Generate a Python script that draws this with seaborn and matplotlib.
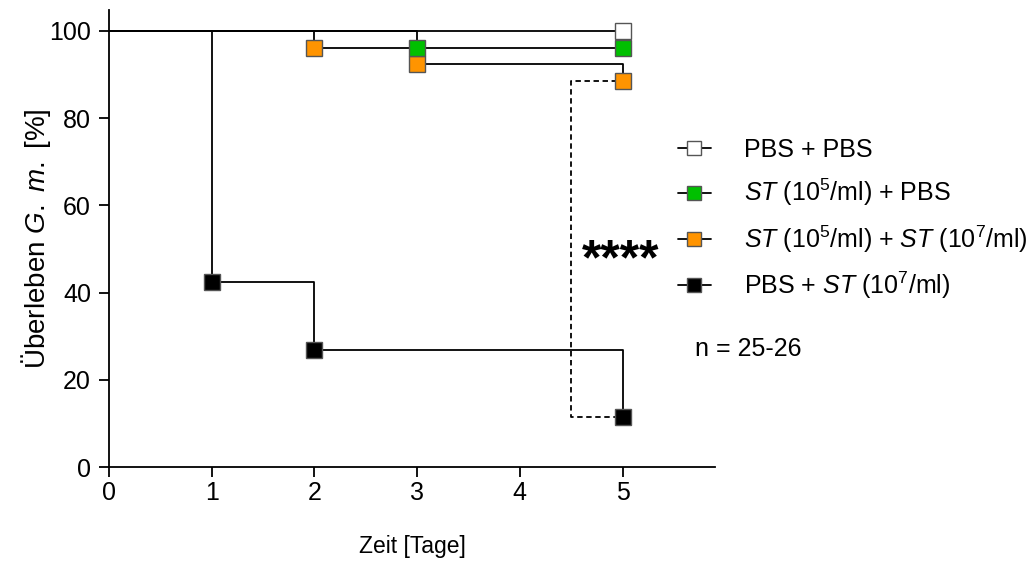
import matplotlib
matplotlib.use("Agg")
import matplotlib.pyplot as plt
from matplotlib.lines import Line2D
import seaborn as sns
import pandas as pd

# Kaplan-Meier survival (%) per group: step points and marked time points
days = [0, 1, 2, 3, 4, 5]
pbs_pbs_t = [0, 5]
pbs_pbs_s = [100.0, 100.0]
st5_pbs_t = [0, 3, 5]
st5_pbs_s = [100.0, 96.0, 96.0]
st5_st7_t = [0, 2, 3, 5]
st5_st7_s = [100.0, 96.15, 92.31, 88.46]
pbs_st7_t = [0, 1, 2, 5]
pbs_st7_s = [100.0, 42.31, 26.92, 11.54]

labels = [
    "PBS + PBS",
    r"$\mathit{ST}$ (10$^{5}$/ml) + PBS",
    r"$\mathit{ST}$ (10$^{5}$/ml) + $\mathit{ST}$ (10$^{7}$/ml)",
    r"PBS + $\mathit{ST}$ (10$^{7}$/ml)",
]
colors = ["#ffffff", "#00c000", "#ff9400", "#000000"]
y_ticks = [0, 20, 40, 60, 80, 100]

sns.set_theme(style="ticks")
plt.rcParams["font.family"] = ["Liberation Sans", "DejaVu Sans"]
plt.rcParams["text.color"] = "black"
plt.rcParams["mathtext.fontset"] = "custom"
plt.rcParams["mathtext.rm"] = "Liberation Sans"
plt.rcParams["mathtext.it"] = "Liberation Sans:italic"
plt.rcParams["mathtext.bf"] = "Liberation Sans:bold"

fig = plt.figure(figsize=(10.35, 5.7), dpi=100)
ax = fig.add_axes([0.1053, 0.1807, 0.5855, 0.8018])

series = [
    (pbs_pbs_t, pbs_pbs_s),
    (st5_pbs_t, st5_pbs_s),
    (st5_st7_t, st5_st7_s),
    (pbs_st7_t, pbs_st7_s),
]
# markers drawn at every point except the start
marker_z = [3.0, 3.4, 3.2, 3.1]
for (t, s), col, mz in zip(series, colors, marker_z):
    df = pd.DataFrame({"t": t, "s": s})
    sns.lineplot(data=df, x="t", y="s", drawstyle="steps-post", color="black",
                 lw=1.3, estimator=None, ax=ax, zorder=2)
    ax.plot(df["t"][1:], df["s"][1:], ls="none", marker="s", ms=11,
            mfc=col, mec="#555555", mew=1.0, zorder=mz)

# significance bracket between the two ST (10^7/ml) groups
bx = 4.5
ax.plot([4.95, bx, bx, 4.95], [st5_st7_s[-1], st5_st7_s[-1], pbs_st7_s[-1], pbs_st7_s[-1]],
        color="black", ls=(0, (3, 2)), lw=1.3, zorder=2)
ax.text(4.6, 44.2, "****", fontsize=36, fontweight="bold", ha="left", va="baseline",
        color="black")

ax.set_xlim(0, 5.9)
ax.set_ylim(0, 104.8)
ax.set_xticks(days)
ax.set_yticks(y_ticks)
ax.tick_params(axis="both", direction="out", length=7, width=1.3, labelsize=18,
               color="black", labelcolor="black", pad=3)
ax.tick_params(axis="y", pad=6)
for side in ["top", "right"]:
    ax.spines[side].set_visible(False)
for side in ["left", "bottom"]:
    ax.spines[side].set_linewidth(1.3)
    ax.spines[side].set_color("black")
ax.set_xlabel("Zeit [Tage]", fontsize=16.5, labelpad=22, color="black")
ax.set_ylabel(r"Überleben $\mathit{G.}$ $\mathit{m.}$ [%]", fontsize=20, labelpad=-3,
              color="black")

handles = [Line2D([0], [0], color="black", lw=1.3, marker="s", ms=9.5,
                  mfc=c, mec="#555555", mew=1.0) for c in colors]
fig.legend(handles, labels, loc="upper left", bbox_to_anchor=(678 / 1035, 1 - 138 / 570),
           frameon=False, fontsize=18, handlelength=1.3, handletextpad=1.35,
           labelspacing=0.6, borderpad=0, borderaxespad=0, labelcolor="black")
fig.text(695 / 1035, 1 - 349 / 570, "n = 25-26", fontsize=18, ha="left", va="center",
         color="black")

fig.savefig("out.png", dpi=100)
